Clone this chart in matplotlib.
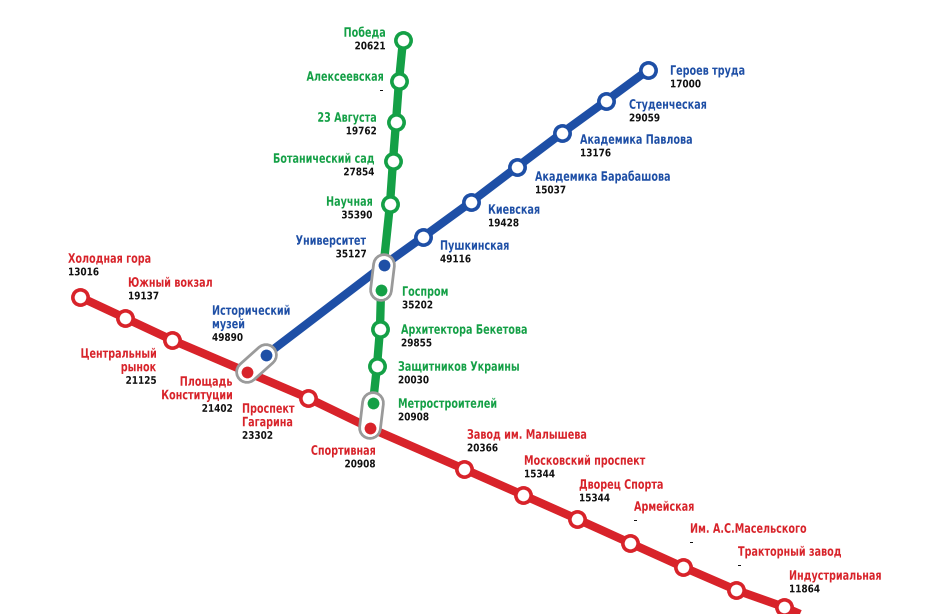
import matplotlib.pyplot as plt
from matplotlib.textpath import TextPath
from matplotlib.patches import PathPatch
from matplotlib.font_manager import FontProperties
from matplotlib.transforms import Affine2D

RED = '#d8232a'
GREEN = '#14a046'
BLUE = '#1e4fa6'

# station positions on the schematic (pixel grid of the map)
red_names = ['Холодная гора', 'Южный вокзал', 'Центральный\nрынок', 'Площадь\nКонституции',
             'Проспект\nГагарина', 'Спортивная', 'Завод им. Малышева', 'Московский проспект',
             'Дворец Спорта', 'Армейская', 'Им. А.С.Масельского', 'Тракторный завод',
             'Индустриальная']
red_pass = ['13016', '19137', '21125', '21402', '23302', '20908', '20366', '15344',
            '15344', '-', '-', '-', '11864']
red_x = [80, 125, 172, 247, 308, 370, 464, 523, 577, 630, 683, 736, 784]
red_y = [297, 318, 340, 372, 398, 428, 469, 495, 519, 543, 567, 590, 607]
red_lx = [68, 128, 156, 232, 242, 375, 467, 524, 579, 634, 690, 738, 789]
red_ly = [258, 282, 353, 381, 408, 450, 434, 460, 484, 506, 528, 551, 575]
red_ha = ['left', 'left', 'right', 'right', 'left', 'right', 'left', 'left', 'left',
          'left', 'left', 'left', 'left']

green_names = ['Победа', 'Алексеевская', '23 Августа', 'Ботанический сад', 'Научная',
               'Госпром', 'Архитектора Бекетова', 'Защитников Украины', 'Метростроителей']
green_pass = ['20621', '-', '19762', '27854', '35390', '35202', '29855', '20030', '20908']
green_x = [403, 399, 396, 393, 390, 381, 380, 377, 373]
green_y = [40, 81, 122, 161, 204, 290, 329, 366, 403]
green_lx = [385, 383, 376, 374, 372, 402, 401, 398, 398]
green_ly = [32, 76, 117, 158, 201, 291, 329, 366, 403]
green_ha = ['right'] * 5 + ['left'] * 4

blue_names = ['Героев труда', 'Студенческая', 'Академика Павлова', 'Академика Барабашова',
              'Киевская', 'Пушкинская', 'Университет', 'Исторический\nмузей']
blue_pass = ['17000', '29059', '13176', '15037', '19428', '49116', '35127', '49890']
blue_x = [648, 606, 562, 517, 471, 423, 384, 266]
blue_y = [70, 101, 133, 167, 202, 237, 265, 355]
blue_lx = [670, 629, 580, 535, 488, 440, 366, 212]
blue_ly = [70, 104, 139, 176, 209, 245, 240, 310]
blue_ha = ['left'] * 6 + ['right', 'left']

transfer_pairs = [((266, 355), (247, 372)), ((384, 265), (381, 290)), ((373, 403), (370, 428))]
interchange = {('r', 3), ('r', 5), ('g', 5), ('g', 8), ('b', 6), ('b', 7)}

FP = FontProperties(family='DejaVu Sans', weight='bold')

fig = plt.figure(figsize=(9.52, 6.14), dpi=100)
ax = fig.add_axes([0, 0, 1, 1])
ax.set_xlim(0, 952)
ax.set_ylim(614, 0)
ax.axis('off')


def narrow_text(x, y, s, size, sx, color, ha):
    # condensed bold text: DejaVu Bold squeezed horizontally, y = vertical centre
    tp = TextPath((0, 0), s, size=size, prop=FP)
    w = tp.get_extents().x1 * sx
    dx = x if ha == 'left' else x - w
    cap = size * 0.73
    tr = Affine2D().scale(sx, -1).translate(dx, y + cap / 2)
    ax.add_patch(PathPatch(tr.transform_path(tp), fc=color, ec='none', zorder=4))


# lines
ax.plot(red_x + [800], red_y + [614], color=RED, lw=6, solid_capstyle='butt', zorder=1)
ax.plot(green_x, green_y, color=GREEN, lw=6, zorder=1)
ax.plot(blue_x, blue_y, color=BLUE, lw=6, zorder=1)

# interchange connectors
for (a, b) in transfer_pairs:
    ax.plot([a[0], b[0]], [a[1], b[1]], color='#9a9a9a', lw=17, solid_capstyle='round', zorder=2)
    ax.plot([a[0], b[0]], [a[1], b[1]], color='white', lw=13, solid_capstyle='round', zorder=2)


def draw(key, xs, ys, names, nums, lxs, lys, has, color):
    for i in range(len(xs)):
        if (key, i) in interchange:
            ax.plot(xs[i], ys[i], 'o', ms=10, mfc=color, mec='white', mew=1.5, zorder=3)
        else:
            ax.plot(xs[i], ys[i], 'o', ms=11, mfc='white', mec=color, mew=2.6, zorder=3)
        lines = names[i].split('\n')
        for k, line in enumerate(lines):
            narrow_text(lxs[i], lys[i] + 13.5 * k, line, 13, 0.74, color, has[i])
        narrow_text(lxs[i], lys[i] + 13.5 * len(lines), nums[i], 10.5, 0.85, '#111111', has[i])


draw('r', red_x, red_y, red_names, red_pass, red_lx, red_ly, red_ha, RED)
draw('g', green_x, green_y, green_names, green_pass, green_lx, green_ly, green_ha, GREEN)
draw('b', blue_x, blue_y, blue_names, blue_pass, blue_lx, blue_ly, blue_ha, BLUE)

fig.savefig('out.png', dpi=100)
